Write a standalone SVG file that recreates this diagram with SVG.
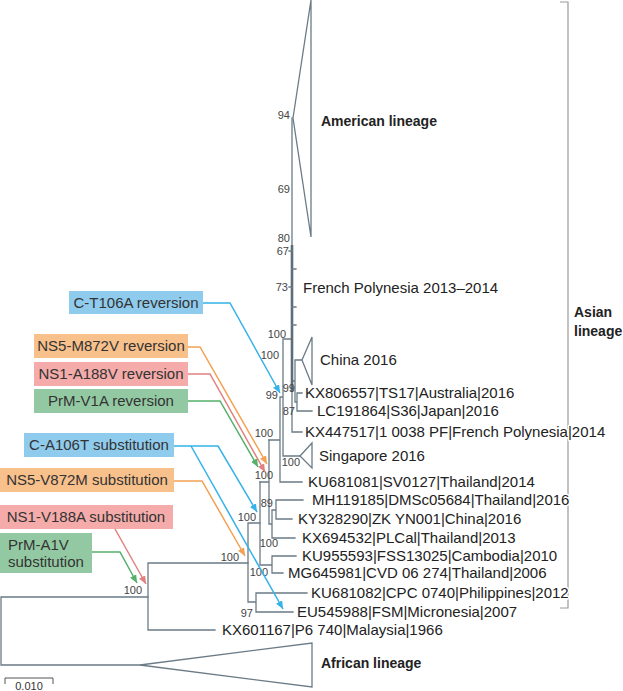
<svg xmlns="http://www.w3.org/2000/svg" width="623" height="691" viewBox="0 0 623 691">
<style>
.br{fill:none;stroke:#6b7b86;stroke-width:1.3;stroke-linecap:square}
.tri{fill:#fff;stroke:#6b7b86;stroke-width:1.3;stroke-linejoin:miter}
.leaf{font-family:"Liberation Sans",Arial,sans-serif;font-size:15px;fill:#222;paint-order:stroke;stroke:#fff;stroke-width:3px;stroke-linejoin:round}
.clade{font-family:"Liberation Sans",Arial,sans-serif;font-size:14px;font-weight:bold;fill:#222}
.bs{font-family:"Liberation Sans",Arial,sans-serif;font-size:11px;fill:#444;text-anchor:end}
.box{font-family:"Liberation Sans",Arial,sans-serif;font-size:15px;fill:#333}
.ab{fill:none;stroke-width:1.5}
.blue{stroke:#35b2e8}.orange{stroke:#f3a152}.pink{stroke:#e2807f}.green{stroke:#55b06a}
</style>
<defs>
<marker id="mb" markerWidth="8" markerHeight="7" refX="8" refY="3.5" orient="auto" markerUnits="userSpaceOnUse"><path d="M0,0 L8,3.5 L0,7 z" fill="#35b2e8"/></marker>
<marker id="mo" markerWidth="8" markerHeight="7" refX="8" refY="3.5" orient="auto" markerUnits="userSpaceOnUse"><path d="M0,0 L8,3.5 L0,7 z" fill="#f3a152"/></marker>
<marker id="mp" markerWidth="8" markerHeight="7" refX="8" refY="3.5" orient="auto" markerUnits="userSpaceOnUse"><path d="M0,0 L8,3.5 L0,7 z" fill="#e2807f"/></marker>
<marker id="mg" markerWidth="8" markerHeight="7" refX="8" refY="3.5" orient="auto" markerUnits="userSpaceOnUse"><path d="M0,0 L8,3.5 L0,7 z" fill="#55b06a"/></marker>
</defs>
<rect width="623" height="691" fill="#fff"/>

<g id="tree-branches">
<path class="br" d="M1,597 V665 M1,597 H148 M1,665 H140"/>
<path class="br" d="M148,563 V630 M148,630 H215 M148,563 H248"/>
<path class="br" d="M248,523 V602 M248,602 H256 M256,593 V612 M256,593 H307 M256,612 H293 M248,523 H260"/>
<path class="br" d="M260,482 V565 M260,565 H272 M272,556 V573 M272,556 H296 M272,573 H283"/>
<path class="br" d="M260,482 H269 M269,440 V524 M269,524 H272 M272,510 V538 M272,538 H295 M272,510 H276 M276,500 V519 M276,500 H303 M276,519 H292"/>
<path class="br" d="M269,440 H280 M280,397 V482 M280,482 H302 M280,397 H283 M283,339 V456 M283,339 H292 M283,456 H300"/>
<path class="br" d="M292,118 V432 M292,432 H302 M292,381 H295 M295,360 V402 M295,360 H302 M295,402 H297 M297,393 V411 M297,393 H302 M297,411 H312"/>
<path d="M292,245 V392" fill="none" stroke="#5d6d78" stroke-width="2.6"/>
<path class="br" d="M289,251 H292 M289,287 H292 M292,269 H296 M292,307 H296 M292,325 H296"/>
</g>

<g id="clade-american"><path class="tri" d="M293,118 L311,0 V237 Z"/><text class="clade" x="321" y="126">American lineage</text></g>
<g id="clade-china"><path class="tri" d="M302,360 L312,337 V385 Z"/><text class="leaf" x="320" y="365">China 2016</text></g>
<g id="clade-singapore"><path class="tri" d="M300,456 L312,443 V468 Z"/><text class="leaf" x="319" y="461">Singapore 2016</text></g>
<g id="clade-african"><path class="tri" d="M140,665 L312,643 V687 Z"/><text class="clade" x="321" y="668">African lineage</text></g>

<g id="bracket-asian">
<path d="M560,2 H568 V608 H560" fill="none" stroke="#9a9a9a" stroke-width="1.2"/>
<text class="clade" x="574" y="317">Asian</text>
<text class="clade" x="574" y="336">lineage</text>
</g>

<g id="leaf-labels">
<text class="leaf" x="303" y="293">French Polynesia 2013–2014</text>
<text class="leaf" x="305" y="398">KX806557|TS17|Australia|2016</text>
<text class="leaf" x="317" y="416">LC191864|S36|Japan|2016</text>
<text class="leaf" x="305" y="437">KX447517|1 0038 PF|French Polynesia|2014</text>
<text class="leaf" x="308" y="487">KU681081|SV0127|Thailand|2014</text>
<text class="leaf" x="312" y="505">MH119185|DMSc05684|Thailand|2016</text>
<text class="leaf" x="298" y="524">KY328290|ZK YN001|China|2016</text>
<text class="leaf" x="302" y="543">KX694532|PLCal|Thailand|2013</text>
<text class="leaf" x="302" y="561">KU955593|FSS13025|Cambodia|2010</text>
<text class="leaf" x="288" y="578">MG645981|CVD 06 274|Thailand|2006</text>
<text class="leaf" x="311" y="598">KU681082|CPC 0740|Philippines|2012</text>
<text class="leaf" x="297" y="617">EU545988|FSM|Micronesia|2007</text>
<text class="leaf" x="222" y="635">KX601167|P6 740|Malaysia|1966</text>
</g>

<g id="bootstrap">
<text class="bs" x="290" y="119">94</text>
<text class="bs" x="290" y="193">69</text>
<text class="bs" x="290" y="242">80</text>
<text class="bs" x="289" y="255">67</text>
<text class="bs" x="288" y="291">73</text>
<text class="bs" x="286" y="338">100</text>
<text class="bs" x="279" y="359">100</text>
<text class="bs" x="278" y="399">99</text>
<text class="bs" x="295" y="392">99</text>
<text class="bs" x="295" y="415">87</text>
<text class="bs" x="273" y="437">100</text>
<text class="bs" x="300" y="466">100</text>
<text class="bs" x="273" y="479">100</text>
<text class="bs" x="273" y="507">89</text>
<text class="bs" x="256" y="521">100</text>
<text class="bs" x="278" y="547">100</text>
<text class="bs" x="239" y="561">100</text>
<text class="bs" x="268" y="576">100</text>
<text class="bs" x="142" y="594">100</text>
<text class="bs" x="253" y="617">97</text>
</g>

<g id="scale-bar">
<path d="M5,684 V678 H53 V684" fill="none" stroke="#555" stroke-width="1"/>
<text x="29" y="690" font-family="'Liberation Sans',Arial,sans-serif" font-size="11" fill="#333" text-anchor="middle">0.010</text>
</g>

<g id="box-ct106a"><rect x="69" y="291" width="134" height="23" fill="#8fcbed"/><text class="box" x="136" y="308" text-anchor="middle">C-T106A reversion</text></g>
<g id="box-ns5m872v"><rect x="34" y="334" width="154" height="24" fill="#f8c08b"/><text class="box" x="111" y="351" text-anchor="middle">NS5-M872V reversion</text></g>
<g id="box-ns1a188v"><rect x="34" y="362" width="154" height="24" fill="#f4abaa"/><text class="box" x="111" y="379" text-anchor="middle">NS1-A188V reversion</text></g>
<g id="box-prmv1a"><rect x="34" y="389" width="154" height="24" fill="#93c9a2"/><text class="box" x="111" y="406" text-anchor="middle">PrM-V1A reversion</text></g>
<g id="box-ca106t"><rect x="24" y="433" width="150" height="24" fill="#8fcbed"/><text class="box" x="99" y="450" text-anchor="middle">C-A106T substitution</text></g>
<g id="box-ns5v872m"><rect x="0" y="468" width="174" height="24" fill="#f8c08b"/><text class="box" x="87" y="485" text-anchor="middle">NS5-V872M substitution</text></g>
<g id="box-ns1v188a"><rect x="0" y="505" width="173" height="24" fill="#f4abaa"/><text class="box" x="86" y="522" text-anchor="middle">NS1-V188A substitution</text></g>
<g id="box-prma1v"><rect x="0" y="533" width="92" height="40" fill="#93c9a2"/><text class="box" x="8" y="550">PrM-A1V</text><text class="box" x="8" y="567">substitution</text></g>

<g id="connectors">
<path class="ab blue" d="M203,303 H230 L280,393" marker-end="url(#mb)"/>
<path class="ab orange" d="M188,347 H200 L267,464" marker-end="url(#mo)"/>
<path class="ab pink" d="M188,374 H210 L265,472" marker-end="url(#mp)"/>
<path class="ab green" d="M188,401 H220 L258,467" marker-end="url(#mg)"/>
<path class="ab blue" d="M174,446 H218 L257,512" marker-end="url(#mb)"/>
<path class="ab blue" d="M191,446 L283,609" marker-end="url(#mb)"/>
<path class="ab orange" d="M174,481 H202 L245,556" marker-end="url(#mo)"/>
<path class="ab pink" d="M115,529 L146,584" marker-end="url(#mp)"/>
<path class="ab green" d="M92,552 H120 L137,583" marker-end="url(#mg)"/>
</g>
</svg>
